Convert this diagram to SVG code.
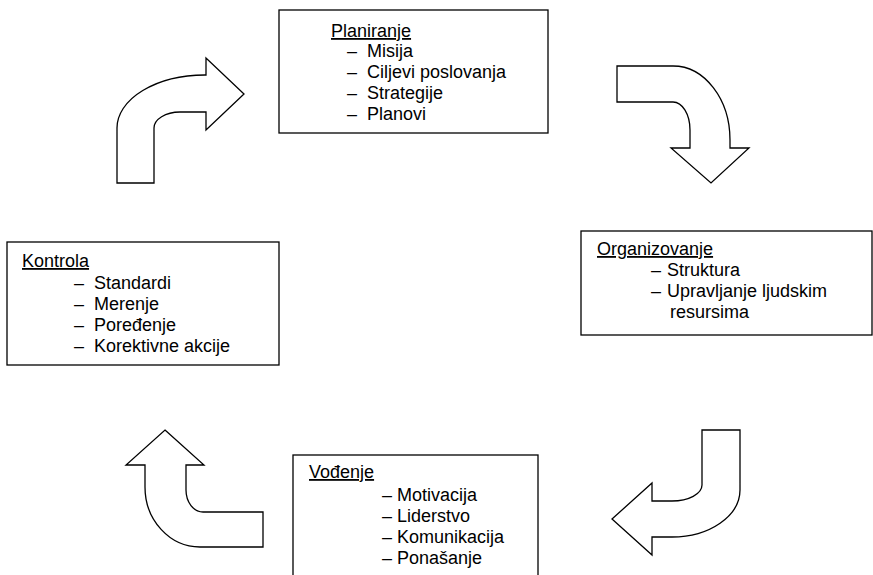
<svg xmlns="http://www.w3.org/2000/svg" width="873" height="575" viewBox="0 0 873 575">
<style>
.box{fill:#fff;stroke:#000;stroke-width:1.3}
.arr{fill:#fff;stroke:#000;stroke-width:1.3;stroke-linejoin:miter}
text{font-family:"Liberation Sans",Arial,sans-serif;font-size:18px;fill:#000}
.t{text-decoration:underline}
</style>
<rect width="873" height="575" fill="#fff"/>
<g id="connectors">
<path class="arr" d="M117,183 L117,128 A88,53 0 0 1 205,75 L206,75 L206,58 L244,94 L206,130 L206,112 L180,112 A26,16 0 0 0 154,128 L154,183 Z"/>
<path class="arr" d="M617,66 L673,66 A57,74 0 0 1 730,140 L730,148 L749,148 L711,183 L671,148 L690,148 L690,130 A17,28 0 0 0 673,102 L617,102 Z"/>
<path class="arr" d="M702,430 L740,430 L740,490 A68,47 0 0 1 672,537 L652,537 L652,555 L612,519 L652,483 L652,501 L672,501 A30,16 0 0 0 702,485 Z"/>
<path class="arr" d="M165,430 L204,465 L186,465 L186,490 A17,22 0 0 0 203,512 L263,512 L263,547 L200,547 A55,60 0 0 1 145,487 L145,465 L126,465 Z"/>
</g>
<g id="planiranje">
<rect class="box" x="279" y="10" width="269" height="123"/>
<text class="t" x="331" y="37">Planiranje</text>
<text x="347" y="57">–</text><text x="367" y="57">Misija</text>
<text x="347" y="78">–</text><text x="367" y="78">Ciljevi poslovanja</text>
<text x="347" y="99">–</text><text x="367" y="99">Strategije</text>
<text x="347" y="120">–</text><text x="367" y="120">Planovi</text>
</g>
<g id="organizovanje">
<rect class="box" x="581" y="231" width="291" height="104"/>
<text class="t" x="597" y="255">Organizovanje</text>
<text x="651" y="276">–</text><text x="667" y="276">Struktura</text>
<text x="651" y="297">–</text><text x="667" y="297">Upravljanje ljudskim</text>
<text x="670" y="318">resursima</text>
</g>
<g id="kontrola">
<rect class="box" x="7" y="242" width="272" height="123"/>
<text class="t" x="22" y="267">Kontrola</text>
<text x="74" y="289">–</text><text x="94" y="289">Standardi</text>
<text x="74" y="310">–</text><text x="94" y="310">Merenje</text>
<text x="74" y="331">–</text><text x="94" y="331">Poređenje</text>
<text x="74" y="352">–</text><text x="94" y="352">Korektivne akcije</text>
</g>
<g id="vodjenje">
<rect class="box" x="293" y="455" width="245" height="140"/>
<text class="t" x="309" y="478">Vođenje</text>
<text x="382" y="501">–</text><text x="397" y="501">Motivacija</text>
<text x="382" y="522">–</text><text x="397" y="522">Liderstvo</text>
<text x="382" y="543">–</text><text x="397" y="543">Komunikacija</text>
<text x="382" y="564">–</text><text x="397" y="564">Ponašanje</text>
</g>
</svg>
